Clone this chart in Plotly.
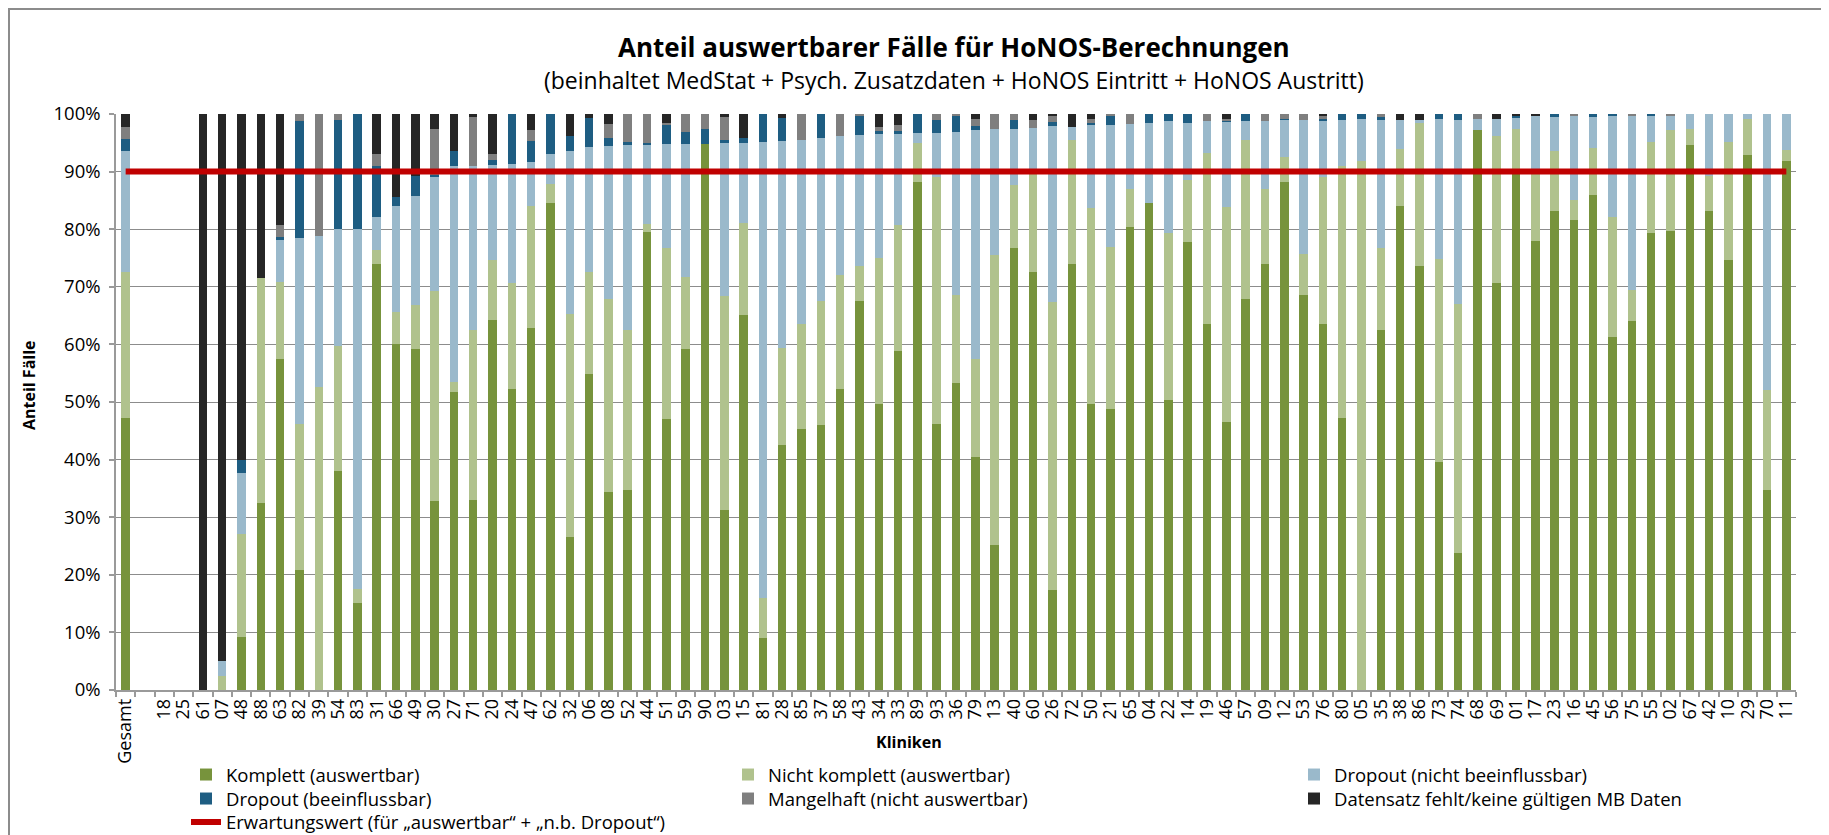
import plotly.graph_objects as go

# ---------------- data ----------------
kliniken = ["Gesamt", " ", "18", "25", "61", "07", "48", "88", "63", "82", "39", "54", "83", "31",
            "66", "49", "30", "27", "71", "20", "24", "47", "62", "32", "06", "08", "52", "44", "51",
            "59", "90", "03", "15", "81", "28", "85", "37", "58", "43", "34", "33", "89", "93",
            "36", "79", "13", "40", "60", "26", "72", "50", "21", "65", "04", "22", "14", "19", "46",
            "57", "09", "12", "53", "76", "80", "05", "35", "38", "86", "73", "74", "68", "69",
            "01", "17", "23", "16", "45", "56", "75", "55", "02", "67", "42", "10", "29", "70", "11"]

komplett = [47.2, 0, 0, 0, 0, 0, 9.2, 32.5, 57.4, 20.9, 0, 38.0, 15.1, 73.9,
            60.0, 59.2, 32.9, 51.8, 33.0, 64.2, 52.3, 62.8, 84.5, 26.5, 54.9, 34.4, 34.8, 79.5, 47.1,
            59.2, 94.8, 31.3, 65.1, 9.1, 42.6, 45.3, 46.0, 52.2, 67.6, 49.6, 58.9, 88.2, 46.2,
            53.3, 40.4, 25.2, 76.7, 72.6, 17.3, 74.0, 49.6, 48.7, 80.4, 84.6, 50.4, 77.8, 63.5, 46.5,
            67.8, 73.9, 88.2, 68.6, 63.5, 47.2, 0, 62.5, 84.1, 73.6, 39.6, 23.7, 97.2, 70.7,
            89.5, 78.0, 83.1, 81.6, 85.9, 61.3, 64.1, 79.3, 79.7, 94.7, 83.1, 74.6, 92.8, 34.7, 91.9]

nicht_komplett = [25.4, 0, 0, 0, 0, 2.5, 17.8, 39.1, 13.4, 25.3, 52.6, 21.8, 2.4, 2.5,
                  5.7, 7.7, 36.4, 1.7, 29.5, 10.4, 18.4, 21.3, 3.4, 38.7, 17.7, 33.5, 27.7, 1.4, 29.7,
                  12.5, 0, 37.1, 16.0, 6.8, 16.8, 18.3, 21.6, 19.8, 6.0, 25.4, 21.9, 6.8, 42.8,
                  15.3, 17.0, 50.4, 11.0, 16.9, 50.1, 21.5, 34.0, 28.2, 6.5, 0, 29.0, 10.8, 29.8, 37.4,
                  27.7, 13.1, 4.4, 7.1, 25.5, 43.7, 91.9, 14.2, 9.8, 24.9, 35.3, 43.4, 0, 25.5,
                  7.9, 11.5, 10.5, 3.4, 8.2, 20.8, 5.3, 15.8, 17.5, 2.7, 6.1, 20.5, 6.3, 17.4, 1.8]

dropout_nb = [21.0, 0, 0, 0, 0, 2.6, 10.7, 0, 7.3, 32.3, 26.2, 20.2, 62.5, 5.8,
              18.4, 18.8, 19.7, 37.5, 28.5, 16.6, 20.7, 7.5, 5.2, 28.3, 21.7, 26.6, 32.2, 13.8, 18.0,
              23.1, 0, 26.6, 13.9, 79.2, 35.9, 31.9, 28.3, 24.2, 22.7, 21.5, 15.9, 1.7, 7.7,
              28.3, 39.8, 21.8, 9.7, 8.0, 30.5, 2.3, 14.5, 21.2, 11.3, 13.9, 19.3, 9.9, 5.4, 14.8,
              3.2, 11.8, 6.4, 23.2, 9.9, 8.1, 7.2, 22.3, 5.1, 0.5, 24.3, 31.9, 2.0, 3.0,
              2.0, 10.1, 5.8, 14.6, 5.4, 17.7, 30.4, 4.5, 2.6, 2.6, 10.8, 4.9, 0.9, 47.9, 6.3]

dropout_b = [2.0, 0, 0, 0, 0, 0, 2.2, 0, 0.5, 20.2, 0, 18.9, 20.0, 8.8,
             1.5, 3.5, 0.4, 2.5, 0, 0.8, 8.6, 3.7, 6.9, 2.7, 5.0, 1.3, 0.4, 0.2, 3.3,
             2.1, 2.6, 0.5, 0.9, 4.9, 4.0, 0, 4.1, 0, 3.3, 0.5, 0.3, 3.3, 2.2,
             2.9, 0.7, 0, 1.6, 0, 0.7, 0, 0.3, 1.5, 0, 1.5, 1.3, 1.5, 0, 0.2,
             1.3, 0, 0.2, 0, 0.3, 1.0, 0.9, 0.5, 0, 0, 0.8, 1.0, 0, 0,
             0.3, 0, 0.6, 0, 0.5, 0.2, 0, 0.4, 0, 0, 0, 0, 0, 0, 0]

mangelhaft = [2.1, 0, 0, 0, 0, 0, 0, 0, 2.1, 1.3, 21.2, 1.1, 0, 2.1,
              0, 0, 8.0, 0, 8.5, 1.1, 0, 1.9, 0, 0, 0, 2.5, 4.9, 5.1, 0.3,
              3.1, 2.6, 4.0, 0, 0, 0, 4.5, 0, 3.8, 0.4, 0.8, 1.1, 0, 1.1,
              0.2, 1.3, 2.6, 1.0, 1.5, 1.0, 0, 0.8, 0.4, 1.8, 0, 0, 0, 1.3, 0.3,
              0, 1.2, 0.8, 1.1, 0.4, 0, 0, 0.5, 0, 0, 0, 0, 0.8, 0,
              0, 0, 0, 0.4, 0, 0, 0.2, 0, 0.2, 0, 0, 0, 0, 0, 0]

datensatz_fehlt = [2.3, 0, 0, 0, 100, 94.9, 60.1, 28.4, 19.3, 0, 0, 0, 0, 6.9,
                   14.4, 10.8, 2.6, 6.5, 0.5, 6.9, 0, 2.8, 0, 3.8, 0.7, 1.7, 0, 0, 1.6,
                   0, 0, 0.5, 4.1, 0, 0.7, 0, 0, 0, 0, 2.2, 1.9, 0, 0,
                   0, 0.8, 0, 0, 1.0, 0.4, 2.2, 0.8, 0, 0, 0, 0, 0, 0, 0.8,
                   0, 0, 0, 0, 0.4, 0, 0, 0, 1.0, 1.0, 0, 0, 0, 0.8,
                   0.3, 0.4, 0, 0, 0, 0, 0, 0, 0, 0, 0, 0, 0, 0, 0]

erwartungswert = 90

# name, values, colour, legend row, legend column width
series = [
    ("Komplett (auswertbar)", komplett, "#77933C", "legend", 497),
    ("Nicht komplett (auswertbar)", nicht_komplett, "#B0C28D", "legend", 521),
    ("Dropout (nicht beeinflussbar)", dropout_nb, "#9AB9CB", "legend", 400),
    ("Dropout (beeinflussbar)", dropout_b, "#1E5D82", "legend2", 497),
    ("Mangelhaft (nicht auswertbar)", mangelhaft, "#7F7F7F", "legend2", 521),
    ("Datensatz fehlt/keine gültigen MB Daten", datensatz_fehlt, "#262626", "legend2", 400),
]

FONT = "Open Sans"

fig = go.Figure()
for name, vals, col, lg, lw in series:
    fig.add_trace(go.Bar(x=kliniken, y=vals, name=name, legend=lg, legendwidth=lw,
                         marker=dict(color=col, line=dict(width=0))))

fig.add_trace(go.Scatter(x=[kliniken[0], kliniken[-1]], y=[erwartungswert, erwartungswert],
                         mode="lines", name="Erwartungswert (für „auswertbar“ + „n.b. Dropout“)",
                         legend="legend3", line=dict(color="#C00000", width=6)))

# page has an 8px body margin -> figure is drawn from (8, 8)
OFF = 8
W, H = 1829 - OFF, 835 - OFF
L, R, T, B = 116 - OFF, 33, 114 - OFF, 145
pw, ph = W - L - R, H - T - B


def px(xp):
    return (xp - OFF - L) / pw


def py(yp):
    return (H - B - (yp - OFF)) / ph


def row_legend(ytop):
    return dict(orientation="h", x=px(186), xanchor="left", y=py(ytop), yanchor="top",
                traceorder="normal",
                font=dict(family=FONT, size=18.5, color="#000000"), bgcolor="rgba(0,0,0,0)")


fig.update_layout(
    width=W, height=H,
    margin=dict(l=L, r=R, t=T, b=B, autoexpand=False),
    paper_bgcolor="white", plot_bgcolor="white",
    barmode="stack", bargap=0.56,
    font=dict(family=FONT, size=18, color="#000000"),
    showlegend=True,
    legend=row_legend(756),
    legend2=row_legend(780),
    legend3=row_legend(803.5),
    xaxis=dict(type="category", tickmode="linear", tick0=0, dtick=1, tickangle=-90,
               ticks="outside", tickson="boundaries", ticklen=5, tickcolor="#9a9a9a", tickwidth=1.5,
               showline=True, linecolor="#9a9a9a", linewidth=1.5, showgrid=False,
               tickfont=dict(family=FONT, size=18, color="#000000")),
    yaxis=dict(range=[0, 100], dtick=10, ticksuffix="%", ticks="outside", ticklen=5,
               tickcolor="#9a9a9a", tickwidth=1.5, showline=True, linecolor="#9a9a9a", linewidth=1.5,
               showgrid=True, gridcolor="#8c8c8c", gridwidth=1.3, zeroline=False,
               ticklabelstandoff=5,
               tickfont=dict(family=FONT, size=18.5, color="#000000")),
    annotations=[
        dict(text="<b>Anteil auswertbarer Fälle für HoNOS-Berechnungen</b>", xref="paper", yref="paper",
             x=px(954), y=py(47), xanchor="center", yanchor="middle", showarrow=False,
             font=dict(family=FONT, size=26, color="#000000")),
        dict(text="(beinhaltet MedStat + Psych. Zusatzdaten + HoNOS Eintritt + HoNOS Austritt)",
             xref="paper", yref="paper", x=px(954), y=py(80), xanchor="center", yanchor="middle",
             showarrow=False, font=dict(family=FONT, size=23, color="#000000")),
        dict(text="<b>Kliniken</b>", xref="paper", yref="paper", x=px(909), y=py(742),
             xanchor="center", yanchor="middle", showarrow=False,
             font=dict(family=FONT, size=16, color="#000000")),
        dict(text="<b>Anteil Fälle</b>", xref="paper", yref="paper", x=px(29), y=py(385),
             xanchor="center", yanchor="middle", showarrow=False,
             textangle=-90, font=dict(family=FONT, size=16, color="#000000")),
    ],
    shapes=[
        dict(type="rect", xref="paper", yref="paper", x0=px(9), x1=px(1823), y0=py(860), y1=py(9),
             line=dict(color="#8c8c8c", width=2), fillcolor="rgba(0,0,0,0)", layer="below"),
    ],
)

fig.write_html("out.html")
